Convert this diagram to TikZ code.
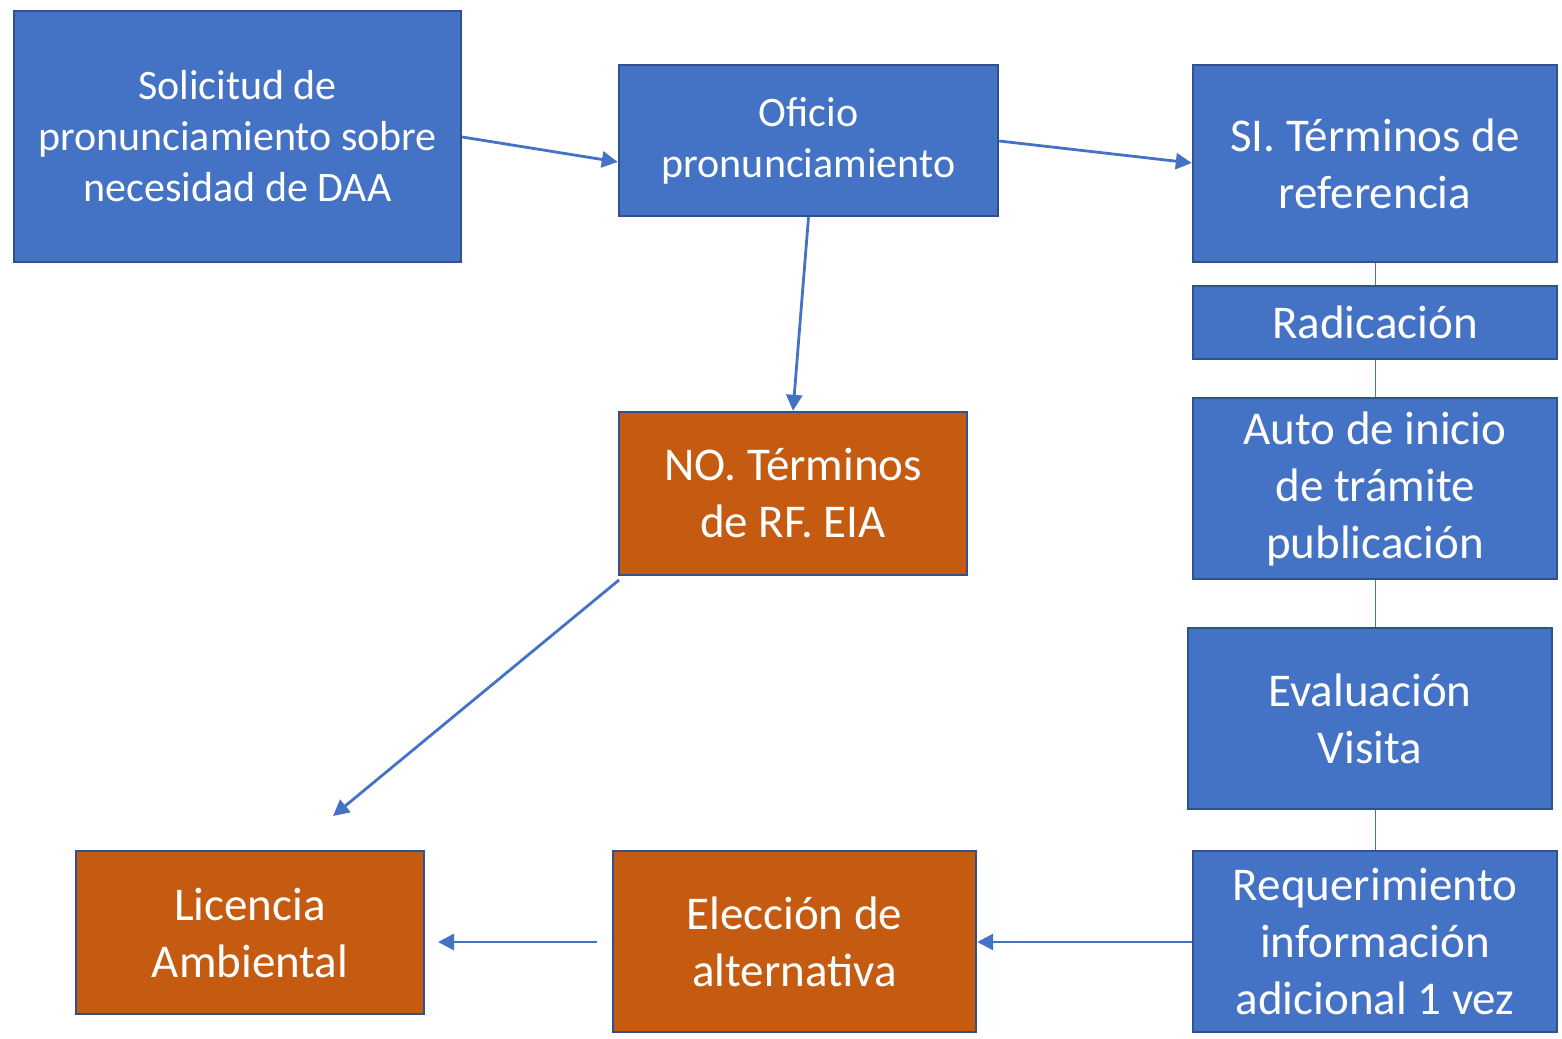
\documentclass[tikz,border=0pt]{standalone}
\usepackage{fontspec}
\setmainfont{Carlito}
\usetikzlibrary{arrows.meta}
\definecolor{bfill}{HTML}{4472C4}
\definecolor{bdraw}{HTML}{2F528F}
\definecolor{ofill}{HTML}{C55A11}
\begin{document}
\begin{tikzpicture}[x=0.5pt,y=-0.5pt,
  box/.style={draw=bdraw,line width=1.2pt,fill=bfill,text=white,align=center,inner sep=0pt},
  obox/.style={box,fill=ofill},
  small/.style={font=\fontsize{21}{25.5}\selectfont},
  big/.style={font=\fontsize{23.5}{28.5}\selectfont},
  arr/.style={draw=bfill,line width=1.4pt,-{Triangle[length=8pt,width=8pt]}},
  thin/.style={draw=bfill,line width=0.5pt}]
\useasboundingbox (0,0) rectangle (1562,1038);
\node[box,small,minimum width=223.5pt,minimum height=125.5pt] (sol) at (237.5,136.5) {Solicitud de\\pronunciamiento sobre\\necesidad de DAA};
\node[box,small,minimum width=189.5pt,minimum height=75.5pt] (ofi) at (808.5,140.5) {\raisebox{-1.5pt}{\parbox{180pt}{\centering Oficio\\pronunciamiento}}};
\node[box,big,minimum width=182pt,minimum height=98.5pt] (si) at (1375,163.5) {SI. Términos de\\referencia};
\node[box,big,minimum width=182pt,minimum height=36.5pt] (rad) at (1375,322.5) {Radicación};
\node[box,big,minimum width=182pt,minimum height=90.5pt] (auto) at (1375,488.5) {\raisebox{-1.5pt}{\parbox{180pt}{\centering Auto de inicio\\de trámite\\publicación}}};
\node[box,big,minimum width=182pt,minimum height=90.5pt] (eva) at (1370,718.5) {Evaluación\\Visita};
\node[box,big,minimum width=182pt,minimum height=90.5pt] (req) at (1375,941.5) {Requerimiento\\información\\adicional 1 vez};
\node[obox,big,minimum width=174pt,minimum height=81.5pt] (no) at (793,493.5) {NO. Términos\\de RF. EIA};
\node[obox,big,minimum width=174pt,minimum height=81.5pt] (lic) at (250,932.5) {Licencia\\Ambiental};
\node[obox,big,minimum width=181.5pt,minimum height=90.5pt] (ele) at (794.5,941.5) {Elección de\\alternativa};
\coordinate (nostart) at (619,580);
\coordinate (noend) at (333,816);
\coordinate (l1) at (597,942);
\coordinate (l2) at (438,942);
\draw[arr] (sol.east |- 0,137) -- (ofi.west |- 0,162);
\draw[arr] (ofi.east |- 0,141) -- (si.west |- 0,163);
\draw[arr] (ofi.south) -- (no.north);
\draw[arr] (nostart) -- (noend);
\draw[arr] (l1) -- (l2);
\draw[arr] (req.west |- 0,942) -- (ele.east |- 0,942);
\draw[thin] (si.south) -- (rad.north);
\draw[thin] (rad.south) -- (auto.north);
\draw[thin] (auto.south) -- (auto.south |- eva.north);
\draw[thin] (req.north) -- (req.north |- eva.south);
\end{tikzpicture}
\end{document}
